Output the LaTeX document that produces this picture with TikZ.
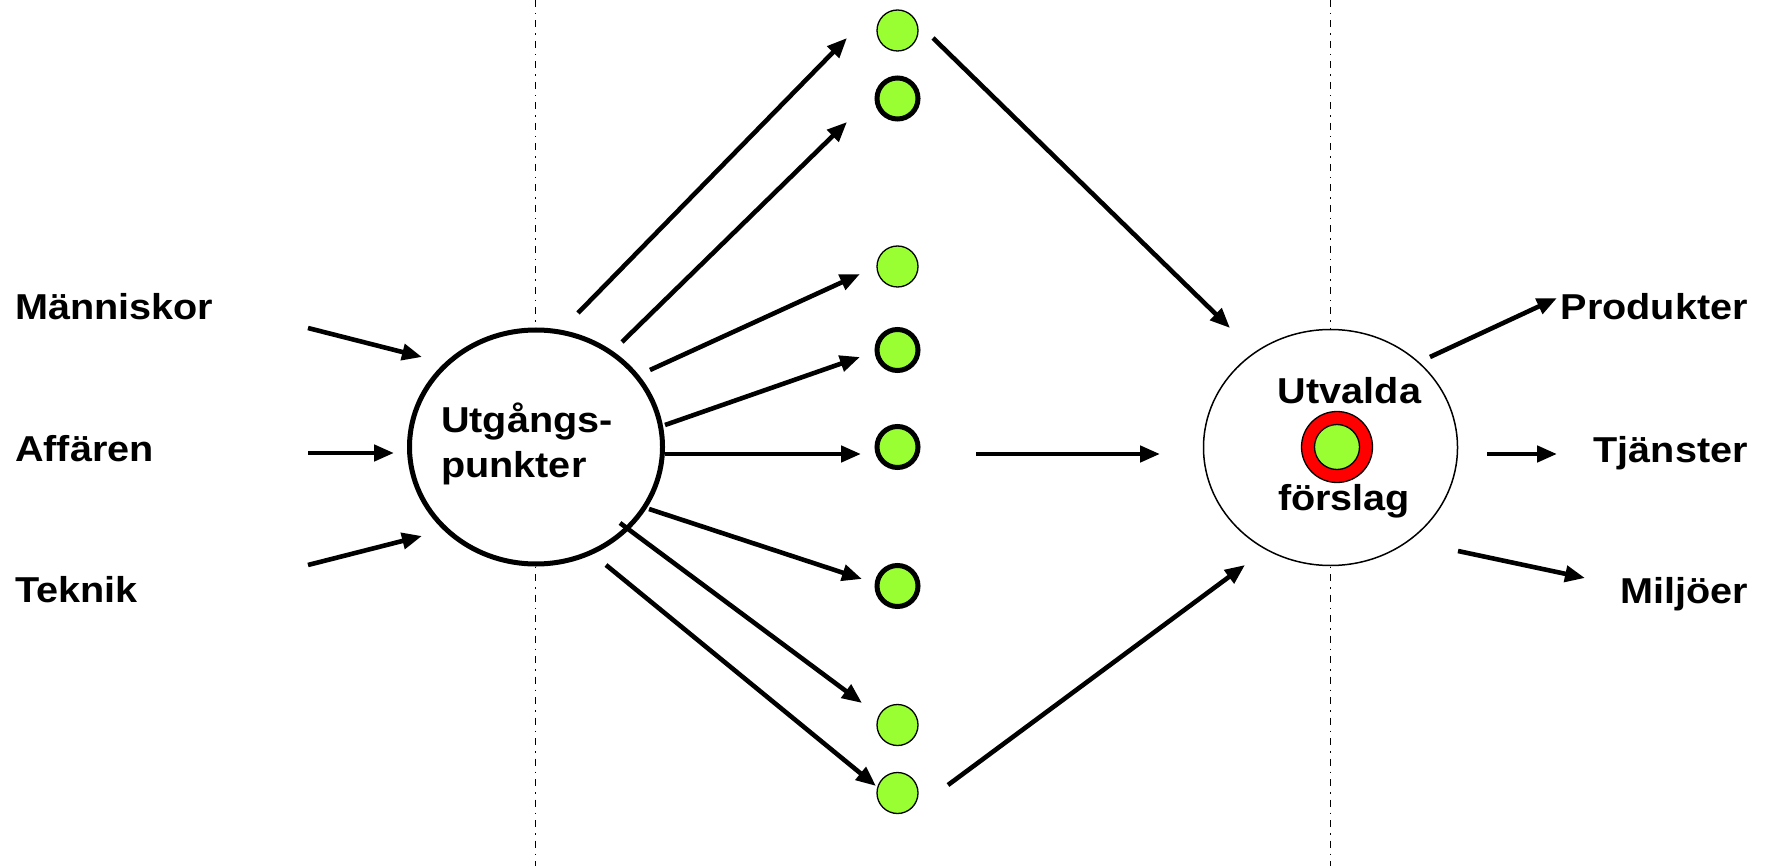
\documentclass[tikz,border=0pt]{standalone}
\usepackage{fontspec}
\setmainfont{Liberation Sans}[FakeStretch=1.1]
\usetikzlibrary{arrows.meta,shapes.geometric}
\definecolor{bubble}{RGB}{153,255,51}
\begin{document}
\begin{tikzpicture}[x=1pt,y=-1pt,
  arr/.style={line width=4.6pt,-{Triangle[length=20pt,width=16pt]}},
  lbl/.style={font=\fontsize{36}{45}\selectfont\bfseries,inner sep=0pt},
  divider/.style={line width=1.3pt,dash pattern=on 7pt off 6pt on 1.5pt off 6pt},
  thinbub/.style={circle,draw,line width=1.3pt,fill=bubble,minimum size=41pt,inner sep=0pt},
  thickbub/.style={circle,draw,line width=5pt,fill=bubble,minimum size=41pt,inner sep=0pt}]
\useasboundingbox (0,0) rectangle (1774,866);

% phase dividers
\draw[divider] (535.7,0) -- (535.7,866);
\draw[divider] (1330.7,0) -- (1330.7,866);

% main shapes
\node[ellipse,draw,line width=5pt,fill=white,minimum width=253pt,minimum height=234pt,inner sep=0pt] (src) at (536,447) {};
\node[lbl,anchor=base west,align=left] (srctext) at (441,477) {Utgångs-\\punkter};
\node[ellipse,draw,line width=1.5pt,fill=white,minimum width=254pt,minimum height=236pt,inner sep=0pt] (sel) at (1330.5,447.5) {};
\node[lbl,anchor=base] (seltop) at (1349.5,403) {Utvalda};
\node[lbl,anchor=base] (selbot) at (1344,510) {förslag};
\node[circle,draw,line width=1.3pt,fill=red,minimum size=71pt,inner sep=0pt] (ring) at (1337,447) {};
\node[thinbub,minimum size=45pt] (core) at (ring) {};

% input and output labels
\node[lbl,anchor=base west] (t1) at (15,320) {Människor};
\node[lbl,anchor=base west] (t2) at (15,461) {Affären};
\node[lbl,anchor=base west] (t3) at (15,602) {Teknik};
\node[lbl,anchor=base east] (u1) at (1748,320) {Produkter};
\node[lbl,anchor=base east] (u2) at (1748,462) {Tjänster};
\node[lbl,anchor=base east] (u3) at (1748,603) {Miljöer};

% idea bubbles
\node[thinbub]  (b1) at (897.5,30.5) {};
\node[thickbub] (b2) at (897.5,98.5) {};
\node[thinbub]  (b3) at (897.5,266.5) {};
\node[thickbub] (b4) at (897.5,350) {};
\node[thickbub] (b5) at (897.5,447) {};
\node[thickbub] (b6) at (897.5,586) {};
\node[thinbub]  (b7) at (897.5,725) {};
\node[thinbub]  (b8) at (897.5,793) {};

% connector end points
\coordinate (i1) at (308,328);   \coordinate (i1e) at (422,357);
\coordinate (i2) at (308,453);   \coordinate (i2e) at (394,453);
\coordinate (i3) at (308,565);   \coordinate (i3e) at (422,536);
\coordinate (f1) at (578,313);   \coordinate (f1e) at (847,38);
\coordinate (f2) at (622,342);   \coordinate (f2e) at (847,122);
\coordinate (f3) at (650,370);   \coordinate (f3e) at (860,274);
\coordinate (f4) at (665,425);   \coordinate (f4e) at (860,357);
\coordinate (f5) at (665,454);   \coordinate (f5e) at (861,454);
\coordinate (f6) at (649,509);   \coordinate (f6e) at (862,579);
\coordinate (f7) at (620,523);   \coordinate (f7e) at (862,703);
\coordinate (f8) at (606,565);   \coordinate (f8e) at (876,786);
\coordinate (g1) at (933,38);    \coordinate (g1e) at (1230,328);
\coordinate (g2) at (976,454);   \coordinate (g2e) at (1160,454);
\coordinate (g3) at (948,785);   \coordinate (g3e) at (1245,565);
\coordinate (o1) at (1430,357);  \coordinate (o1e) at (1557,298);
\coordinate (o2) at (1487,454);  \coordinate (o2e) at (1557,454);
\coordinate (o3) at (1458,551);  \coordinate (o3e) at (1585,578);

% connectors
\foreach \s in {i1,i2,i3,f1,f2,f3,f4,f5,f6,f7,f8,g1,g2,g3,o1,o2,o3}
  \draw[arr] (\s) -- (\s e);
\end{tikzpicture}
\end{document}
